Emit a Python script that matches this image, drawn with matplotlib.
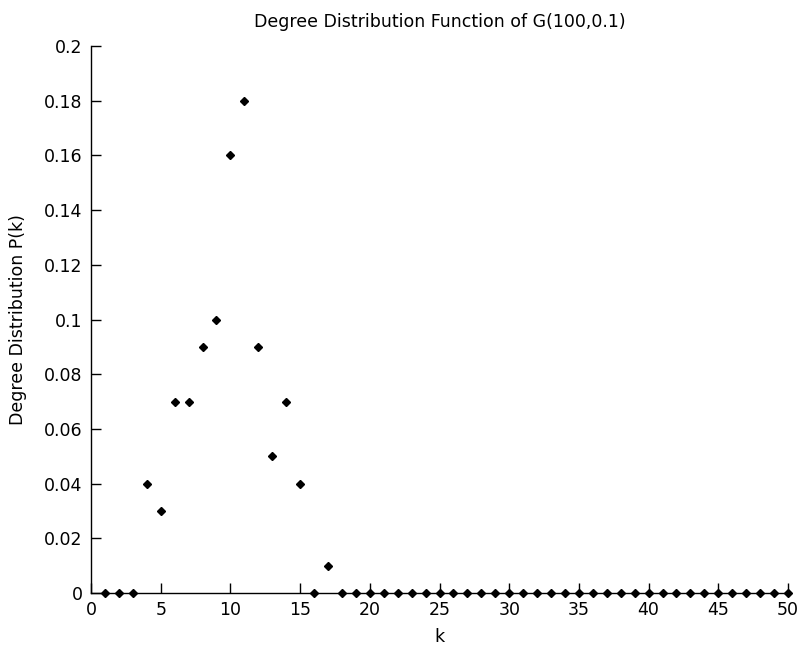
import matplotlib
matplotlib.use("Agg")
import matplotlib.pyplot as plt
import numpy as np

k = list(range(1, 51))
pk = [0, 0, 0, 0.04, 0.03, 0.07, 0.07, 0.09, 0.10, 0.16,
      0.18, 0.09, 0.05, 0.07, 0.04, 0, 0.01] + [0] * 33
xticks = list(range(0, 51, 5))
yticks = [round(0.02 * i, 2) for i in range(11)]

plt.rcParams['font.family'] = ['DejaVu Sans']
fig = plt.figure(figsize=(8.01, 6.5), dpi=100)
ax = fig.add_axes([0.1136, 0.0877, 0.8702, 0.8415])
ax.plot(k, pk, linestyle='none', marker='D', markersize=4, color='black')
ax.set_xlim(0, 50)
ax.set_ylim(0, 0.2)
ax.set_xticks(xticks)
ax.set_xticklabels([f"{v:g}" for v in xticks])
ax.set_yticks(yticks)
ax.set_yticklabels([f"{v:g}" for v in yticks])
ax.spines['top'].set_visible(False)
ax.spines['right'].set_visible(False)
for s in ('left', 'bottom'):
    ax.spines[s].set_linewidth(1.0)
ax.tick_params(direction='in', length=7, width=1, labelsize=12.5, pad=6)
ax.set_xlabel('k', fontsize=12.5, labelpad=6)
ax.set_ylabel('Degree Distribution P(k)', fontsize=12.5, labelpad=12)
ax.set_title('Degree Distribution Function of G(100,0.1)', fontsize=12.5, pad=14)
ax.patch.set_visible(False)
for line in ax.lines:
    line.set_clip_on(False)
fig.savefig('out.png', dpi=100)
